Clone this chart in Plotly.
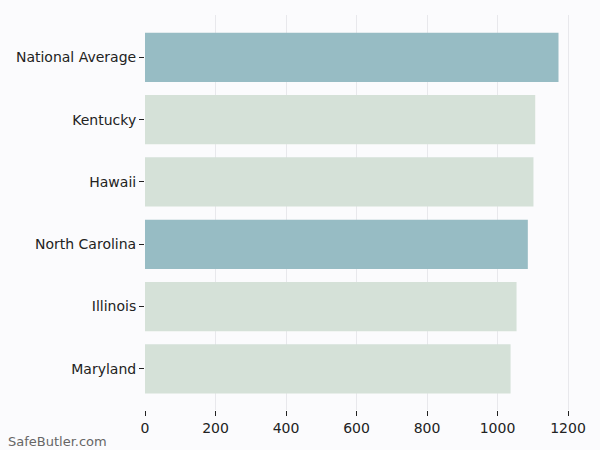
import plotly.graph_objects as go

states = ["National Average", "Kentucky", "Hawaii", "North Carolina", "Illinois", "Maryland"]
premiums = [1173, 1107, 1102, 1086, 1054, 1037]
highlight = [True, False, False, True, False, False]

TEAL = "#97bcc4"
SAGE = "#d5e1d8"
BG = "#fbfbfd"

fig = go.Figure(
    go.Bar(
        x=premiums,
        y=states,
        orientation="h",
        marker=dict(color=[TEAL if h else SAGE for h in highlight], line=dict(width=0)),
        width=0.79,
        hoverinfo="x+y",
    )
)

fig.update_layout(
    width=600,
    height=450,
    paper_bgcolor=BG,
    plot_bgcolor=BG,
    margin=dict(l=145, r=20, t=15, b=40),
    font=dict(family="DejaVu Sans", size=14, color="#222222"),
    showlegend=False,
)

fig.update_xaxes(
    range=[0, 1234],
    tickvals=[0, 200, 400, 600, 800, 1000, 1200],
    showgrid=True,
    gridcolor="#e8e8ec",
    gridwidth=1,
    zeroline=False,
    showline=False,
    ticks="outside",
    ticklen=5,
    tickcolor="#222222",
    tickfont=dict(size=14, color="#222222"),
)

fig.update_yaxes(
    range=[5.66, -0.68],
    showgrid=False,
    zeroline=False,
    showline=False,
    ticks="outside",
    ticklen=5,
    tickcolor="#222222",
    tickfont=dict(size=14, color="#222222"),
)

fig.add_annotation(
    text="SafeButler.com",
    xref="paper", yref="paper",
    x=-139 / 435, y=-0.08,
    xanchor="left", yanchor="middle",
    showarrow=False,
    font=dict(size=13, color="#666666"),
)

# page has a default 8px body margin; drop it so the figure sits at 0,0
fig.write_html(
    "out.html",
    config={"displayModeBar": False},
    post_script="document.body.style.margin='0';",
)
